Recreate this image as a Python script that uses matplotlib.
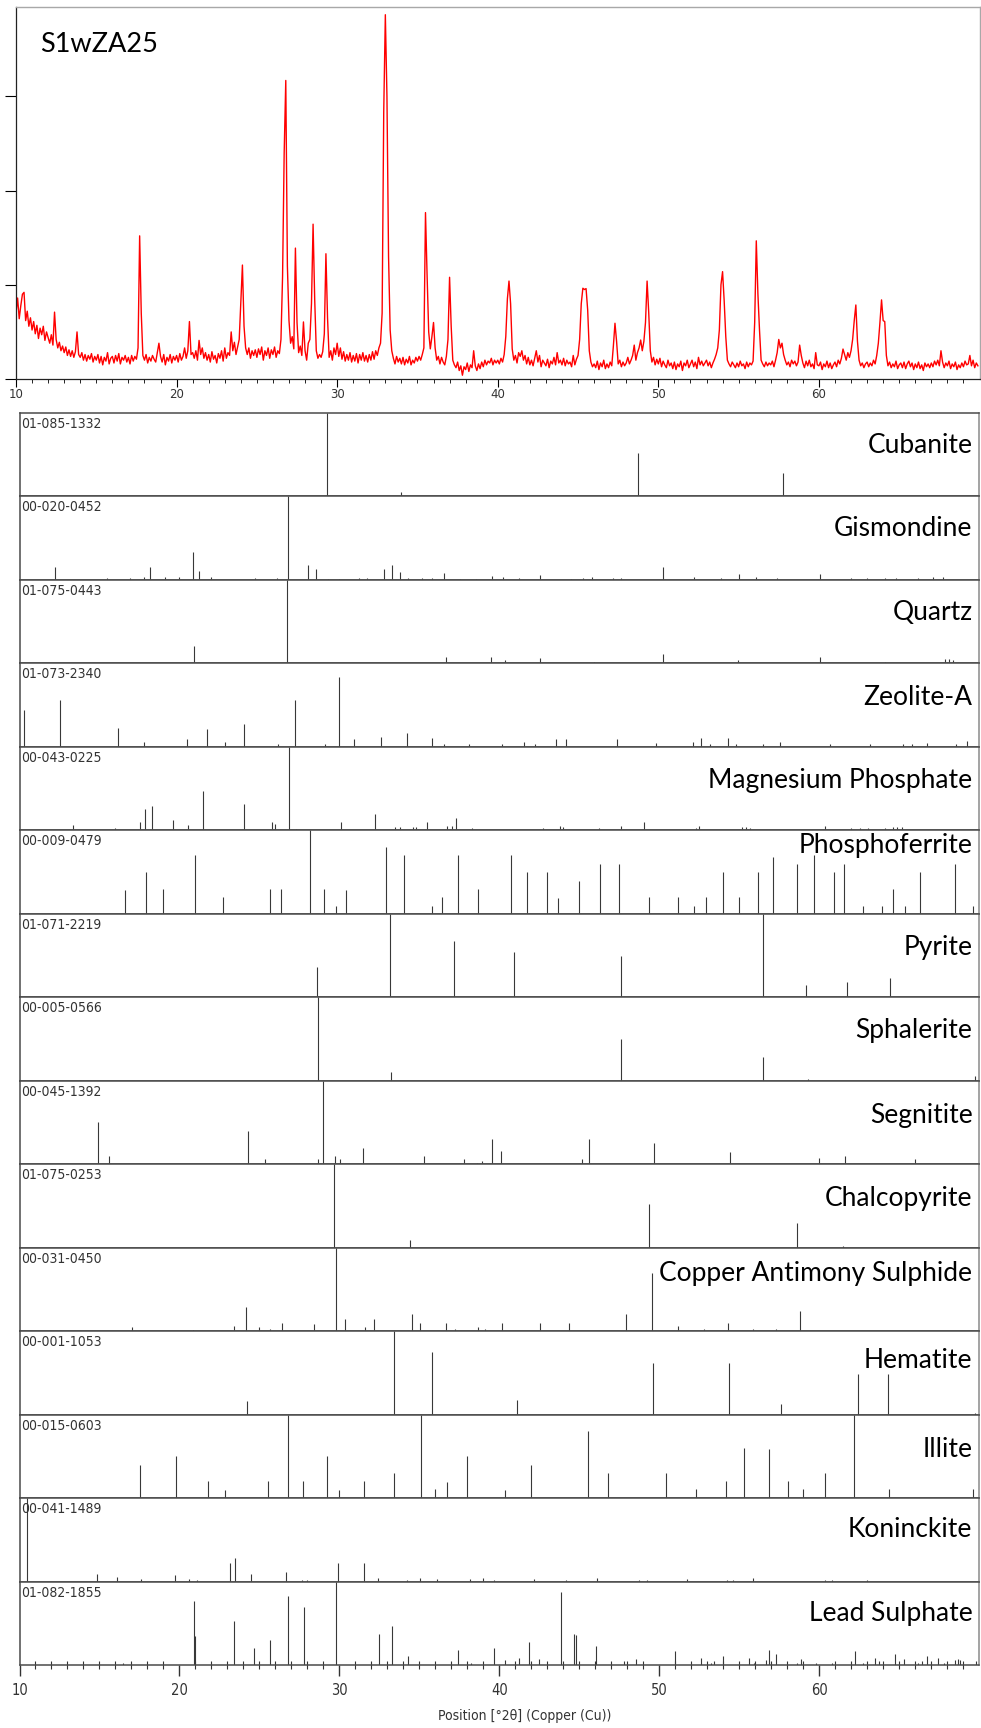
import matplotlib
matplotlib.use("Agg")
import matplotlib.pyplot as plt
import numpy as np
from matplotlib import font_manager

# ---------------- data ----------------
SAMPLE_NAME = "S1wZA25"
X_LABEL = "Position [°2θ] (Copper (Cu))"
X_MAJOR_TICKS = [10, 20, 30, 40, 50, 60]

# measured pattern: counts every 0.1 deg starting at 10.0 deg 2theta
PATTERN_START = 10.0
PATTERN_STEP = 0.1
PATTERN_COUNTS = [
    700, 860, 640, 780, 900, 920, 620, 720, 560, 650,     # 10
    520, 610, 480, 570, 430, 540, 470, 560, 410, 500,     # 11
    440, 380, 470, 360, 710, 420, 330, 390, 300, 350,     # 12
    280, 340, 250, 310, 240, 300, 230, 290, 500, 260,     # 13
    230, 280, 200, 260, 190, 250, 210, 270, 180, 240,     # 14
    200, 260, 170, 240, 150, 230, 190, 280, 160, 220,     # 15
    240, 170, 250, 190, 270, 160, 230, 200, 250, 180,     # 16
    230, 160, 250, 190, 240, 210, 330, 1520, 700, 250,    # 17
    200, 260, 170, 230, 190, 250, 210, 180, 280, 380,     # 18
    240, 180, 260, 150, 230, 190, 260, 170, 240, 200,     # 19
    250, 180, 270, 200, 240, 330, 220, 300, 610, 260,     # 20
    280, 220, 300, 200, 410, 260, 330, 220, 280, 200,     # 21
    260, 180, 290, 210, 250, 170, 270, 220, 300, 190,     # 22
    330, 220, 280, 250, 500, 300, 390, 260, 340, 420,     # 23
    820, 1210, 560, 330, 260, 330, 220, 300, 250, 310,    # 24
    230, 320, 260, 340, 200, 300, 250, 330, 220, 310,     # 25
    260, 340, 230, 300, 270, 420, 1090, 2400, 3170, 1200,  # 26
    620, 380, 450, 320, 1390, 600, 280, 350, 250, 606,    # 27
    300, 200, 380, 420, 800, 1644, 850, 300, 220, 260,    # 28
    230, 290, 480, 1330, 650, 230, 300, 200, 330, 260,    # 29
    380, 240, 330, 210, 290, 190, 260, 200, 280, 180,     # 30
    250, 190, 270, 170, 260, 200, 280, 190, 250, 180,     # 31
    260, 200, 290, 210, 300, 250, 330, 380, 700, 2840,    # 32
    3868, 3000, 1300, 520, 300, 220, 160, 240, 180, 220,  # 33
    160, 230, 150, 210, 170, 240, 150, 200, 170, 230,     # 34
    190, 240, 200, 260, 330, 1767, 1100, 500, 320, 450,   # 35
    600, 330, 200, 240, 160, 230, 180, 150, 240, 420,     # 36
    1080, 560, 200, 150, 120, 180, 90, 140, 40, 130,      # 37
    100, 170, 80, 150, 120, 300, 140, 90, 160, 110,       # 38
    180, 130, 200, 150, 190, 170, 220, 150, 200, 170,     # 39
    200, 160, 220, 180, 260, 450, 850, 1040, 800, 320,    # 40
    200, 250, 170, 280, 240, 300, 200, 250, 160, 230,     # 41
    150, 200, 140, 220, 300, 180, 250, 130, 200, 170,     # 42
    140, 210, 120, 190, 160, 230, 150, 280, 170, 200,     # 43
    150, 220, 140, 200, 160, 180, 130, 250, 150, 210,     # 44
    250, 420, 800, 964, 950, 960, 733, 300, 180, 130,     # 45
    160, 120, 190, 100, 170, 130, 200, 110, 160, 120,     # 46
    180, 140, 350, 592, 400, 160, 200, 130, 180, 140,     # 47
    170, 230, 160, 200, 250, 360, 200, 280, 330, 414,     # 48
    300, 400, 600, 1040, 712, 300, 180, 230, 150, 210,    # 49
    160, 220, 130, 190, 150, 120, 200, 140, 170, 110,     # 50
    180, 100, 160, 130, 190, 90, 170, 140, 200, 120,      # 51
    160, 200, 130, 180, 110, 230, 150, 190, 140, 170,     # 52
    200, 140, 180, 120, 170, 210, 260, 330, 520, 1000,    # 53
    1140, 830, 450, 200, 160, 130, 180, 150, 120, 170,    # 54
    130, 190, 140, 160, 110, 180, 130, 170, 150, 190,     # 55
    600, 1467, 906, 520, 200, 160, 130, 180, 140, 170,    # 56
    150, 190, 130, 200, 280, 420, 330, 380, 260, 200,     # 57
    150, 180, 130, 200, 160, 190, 140, 180, 360, 250,     # 58
    170, 120, 190, 140, 200, 130, 160, 110, 280, 150,     # 59
    140, 180, 100, 160, 130, 190, 120, 170, 110, 150,     # 60
    180, 130, 200, 160, 220, 318, 260, 200, 280, 230,     # 61
    300, 420, 620, 786, 400, 200, 140, 170, 120, 160,     # 62
    180, 130, 170, 140, 200, 160, 250, 380, 600, 840,     # 63
    620, 610, 250, 140, 180, 120, 160, 130, 190, 110,     # 64
    150, 170, 120, 180, 110, 160, 190, 130, 170, 100,     # 65
    160, 120, 180, 110, 150, 90, 170, 130, 160, 120,      # 66
    170, 130, 190, 150, 200, 140, 300, 180, 120, 170,     # 67
    140, 190, 110, 160, 130, 180, 100, 150, 120, 170,     # 68
    130, 190, 150, 160, 250, 140, 200, 120, 170, 140,     # 69
]

MINERAL_NAMES = [
    "Cubanite", "Gismondine", "Quartz", "Zeolite-A", "Magnesium Phosphate",
    "Phosphoferrite", "Pyrite", "Sphalerite", "Segnitite", "Chalcopyrite",
    "Copper Antimony Sulphide", "Hematite", "Illite", "Koninckite", "Lead Sulphate",
]
REF_CODES = [
    "01-085-1332", "00-020-0452", "01-075-0443", "01-073-2340", "00-043-0225",
    "00-009-0479", "01-071-2219", "00-005-0566", "00-045-1392", "01-075-0253",
    "00-031-0450", "00-001-1053", "00-015-0603", "00-041-1489", "01-082-1855",
]

CUBANITE_POS = [29.26, 33.86, 48.69, 57.76]
CUBANITE_INT = [100, 5.6, 52, 28]

GISMONDINE_POS = [12.24, 15.45, 16.9, 17.8, 18.15, 19.1, 20.0, 20.84, 21.24, 22.0, 24.7, 26.1,
                  26.79, 28.04, 28.55, 29.3, 30.0, 31.2, 31.75, 32.77, 33.28, 33.79, 34.3, 35.2,
                  35.78, 36.56, 37.54, 38.52, 39.53, 40.24, 41.25, 42.54, 44.46, 45.24, 45.83,
                  47.12, 47.59, 50.21, 52.17, 53.85, 55.02, 56.08, 57.37, 60.03, 61.99, 63.0,
                  64.1, 64.8, 66.2, 67.15, 67.73]
GISMONDINE_INT = [15, 2, 2, 4, 15, 3, 4, 34, 11, 3, 2, 2,
                  100, 18, 13, 1, 1, 2, 2, 13, 18, 10, 2, 2,
                  2, 8, 1, 1, 5, 3, 2, 6, 1, 2, 3,
                  2, 2, 15, 4, 2, 7, 3, 2, 7, 2, 2,
                  2, 2, 2, 3, 3]

QUARTZ_POS = [20.93, 26.75, 36.68, 39.5, 40.36, 42.55, 45.9, 50.21, 54.94, 60.03, 64.1, 67.85, 68.12, 68.36]
QUARTZ_INT = [21, 100, 8, 7.5, 4, 6, 2, 11, 4, 7.5, 1.5, 5.5, 5, 3.5]

ZEOLITE_POS = [10.28, 12.51, 16.19, 17.79, 20.45, 21.74, 22.84, 24.05, 26.16, 27.21, 29.09, 29.99,
               30.89, 32.61, 34.22, 35.78, 36.56, 38.1, 40.16, 41.57, 42.23, 43.52, 44.19, 47.36,
               49.78, 52.09, 52.64, 53.19, 54.32, 54.83, 56.51, 57.56, 60.69, 63.16, 65.27, 65.78,
               66.75, 68.59, 69.22]
ZEOLITE_INT = [44, 56, 23, 6, 10, 22, 6, 28, 3, 56, 4, 84,
               9, 12, 17, 11, 3, 4, 3, 6, 3, 9, 10, 9,
               5, 6, 11, 4, 11, 3, 4, 6, 4, 4, 4, 3,
               5, 3, 7]

MGPHOS_POS = [13.37, 16.0, 17.55, 17.83, 18.3, 19.6, 20.53, 21.5, 24.05, 25.77, 25.96, 26.83,
              27.3, 30.1, 32.26, 33.5, 33.8, 34.6, 34.8, 35.47, 36.76, 37.03, 37.3, 38.28,
              42.74, 43.8, 43.99, 46.22, 47.59, 49.08, 52.3, 52.5, 55.2, 55.4, 55.7, 60.34,
              62.0, 62.57, 63.04, 64.13, 64.6, 64.88, 65.2]
MGPHOS_INT = [7, 2.5, 10, 26, 29, 12, 7, 47, 31, 10, 8, 100,
              1.6, 10, 20, 3.6, 3.6, 3.6, 3.6, 10, 5.6, 5.6, 15, 2.8,
              2.8, 5.6, 3.6, 2.8, 4.8, 10, 2.8, 4.8, 3.6, 3.6, 2.8, 4.8,
              2.8, 2.8, 2.8, 2.8, 3.6, 3.6, 3.6]

PHOSPHO_POS = [16.58, 17.91, 19.0, 20.96, 22.72, 25.69, 26.35, 28.19, 29.05, 29.8, 30.42, 32.93,
               34.02, 35.78, 36.45, 37.42, 38.64, 40.71, 41.76, 42.97, 43.68, 44.97, 46.3, 47.47,
               49.35, 51.19, 52.16, 52.95, 54.0, 54.98, 56.19, 57.09, 58.62, 59.71, 60.93, 61.55,
               62.77, 63.94, 64.64, 65.35, 66.28, 68.47, 69.61]
PHOSPHO_INT = [28, 50, 30, 70, 20, 30, 30, 100, 30, 9, 28, 80,
               70, 9, 20, 70, 30, 70, 50, 50, 19, 39, 60, 60,
               20, 20, 9, 20, 50, 20, 50, 68, 60, 70, 50, 60,
               9, 9, 30, 9, 50, 60, 9]

PYRITE_POS = [28.62, 33.16, 37.19, 40.9, 47.59, 56.47, 59.17, 61.75, 64.45]
PYRITE_INT = [36, 100, 67, 54, 49, 100, 15, 18, 23]

SPHALERITE_POS = [28.66, 33.2, 47.63, 56.47, 59.29, 69.73]
SPHALERITE_INT = [100, 10, 50, 29, 2, 6]

SEGNITITE_POS = [14.9, 15.6, 24.28, 25.34, 28.66, 28.97, 29.76, 30.03, 31.48, 35.27, 37.81, 38.6,
                 38.9, 39.53, 40.08, 45.17, 45.63, 49.66, 54.43, 59.99, 61.59, 66.01]
SEGNITITE_INT = [50, 10, 40, 6, 6, 100, 10, 6, 20, 10, 6, 2,
                 4, 30, 16, 6, 30, 26, 15, 8, 10, 6]

CHALCO_POS = [29.68, 34.41, 49.39, 58.62, 61.51]
CHALCO_INT = [100, 9, 52, 29, 2]

CAS_POS = [17.04, 20.88, 23.43, 24.17, 24.99, 25.69, 26.43, 28.43, 29.8, 30.38, 31.6, 32.18,
           34.53, 35.04, 36.64, 37.23, 38.67, 39.1, 40.16, 42.54, 44.38, 47.9, 49.55, 51.19,
           52.79, 54.32, 55.88, 57.29, 58.81]
CAS_INT = [5, 2, 6, 29, 5, 3, 10, 8, 100, 15, 5, 15,
           20, 10, 10, 3, 5, 3, 10, 10, 10, 20, 70, 6,
           3, 10, 3, 3, 24]

HEMATITE_POS = [24.24, 33.39, 35.82, 41.14, 49.62, 54.36, 57.64, 62.41, 64.33, 69.73]
HEMATITE_INT = [16, 100, 75, 17, 62, 62, 13, 49, 49, 2]

ILLITE_POS = [17.56, 19.78, 21.78, 22.87, 25.53, 26.82, 27.72, 29.25, 29.95, 31.56, 33.39, 35.11,
              35.97, 36.76, 38.01, 40.36, 41.96, 45.56, 46.81, 50.41, 52.32, 54.16, 55.3, 56.86,
              58.07, 59.01, 60.34, 62.17, 64.37, 69.61]
ILLITE_INT = [40, 50, 20, 10, 20, 100, 20, 50, 10, 20, 30, 100,
              11, 19, 50, 10, 40, 80, 30, 30, 11, 20, 60, 59,
              20, 11, 30, 100, 11, 11]

KONINCK_POS = [10.44, 14.86, 16.07, 17.6, 19.71, 20.57, 21.11, 23.19, 23.5, 24.48, 26.67, 27.65,
               28.0, 29.91, 31.52, 32.42, 34.22, 35.04, 36.09, 38.2, 38.99, 39.65, 42.15, 44.15,
               46.1, 48.76, 49.23, 51.73, 54.24, 54.63, 55.84, 60.34, 60.81, 63.0]
KONINCK_INT = [100, 9, 6, 3, 8, 3, 2, 22, 28, 9, 11, 2,
               2, 22, 22, 4, 2, 4, 3, 3, 4, 2, 3, 2,
               4, 2, 2, 3, 2, 2, 4, 2, 2, 2]

LEADSUL_POS = [16.5, 20.92, 21.0, 23.42, 24.67, 25.65, 26.82, 27.8, 29.8, 32.49, 33.31, 34.29,
               37.42, 38.24, 39.65, 40.39, 41.21, 41.84, 42.46, 43.87, 44.66, 44.77, 46.03, 47.82,
               48.53, 50.99, 52.64, 53.26, 53.46, 53.97, 55.61, 55.92, 56.66, 56.86, 57.29, 58.62,
               58.85, 59.79, 60.81, 62.26, 62.77, 63.51, 63.74, 64.72, 65.31, 66.17, 66.44, 66.75,
               67.42, 67.81, 68.51, 68.67, 68.82, 69.8]
LEADSUL_INT = [3, 77, 35, 53, 21, 30, 83, 69, 100, 37, 47, 11,
               18, 3, 21, 6, 9, 28, 7, 87, 37, 36, 23, 5,
               7, 17, 9, 3, 5, 11, 9, 3, 6, 18, 13, 3,
               7, 2, 2, 17, 2, 9, 5, 13, 7, 2, 5, 11,
               9, 3, 6, 7, 6, 5]

STICK_POSITIONS = [CUBANITE_POS, GISMONDINE_POS, QUARTZ_POS, ZEOLITE_POS, MGPHOS_POS,
                   PHOSPHO_POS, PYRITE_POS, SPHALERITE_POS, SEGNITITE_POS, CHALCO_POS,
                   CAS_POS, HEMATITE_POS, ILLITE_POS, KONINCK_POS, LEADSUL_POS]
STICK_INTENSITIES = [CUBANITE_INT, GISMONDINE_INT, QUARTZ_INT, ZEOLITE_INT, MGPHOS_INT,
                     PHOSPHO_INT, PYRITE_INT, SPHALERITE_INT, SEGNITITE_INT, CHALCO_INT,
                     CAS_INT, HEMATITE_INT, ILLITE_INT, KONINCK_INT, LEADSUL_INT]

# ---------------- layout (pixels) ----------------
W, H = 981, 1728
NAME_BASELINE = [40, 40, 40, 42, 41, 23, 41, 41, 42, 42, 33, 37, 42, 39, 39]

# narrow font for the small software labels
_fonts = font_manager.fontManager.ttflist
_names = {f.name for f in _fonts}
NARROW_PROPS = dict(family="Liberation Sans")
if "Liberation Sans Narrow" in _names:
    NARROW_PROPS = dict(family="Liberation Sans Narrow")
elif any(f.name == "DejaVu Sans" and "Condensed" in f.fname for f in _fonts):
    NARROW_PROPS = dict(family="DejaVu Sans", fontstretch="condensed")
elif "Roboto Condensed" in _names:
    NARROW_PROPS = dict(family="Roboto Condensed")
TITLE_FONT = "Lato" if "Lato" in _names else "DejaVu Sans"

fig = plt.figure(figsize=(W / 100, H / 100), dpi=100)


def add_axes_px(left, top, right, bottom):
    return fig.add_axes([left / W, 1 - bottom / H, (right - left) / W, (bottom - top) / H])


# ---- top: measured pattern ----
T_LEFT, T_TOP, T_RIGHT, T_BOTTOM = 16, 7, 979.5, 379
ax = add_axes_px(T_LEFT, T_TOP, T_RIGHT, T_BOTTOM)
x = PATTERN_START + PATTERN_STEP * np.arange(len(PATTERN_COUNTS))
ax.plot(x, PATTERN_COUNTS, color="#ff0000", lw=1.0)
ax.set_xlim(10, 70)
ax.set_ylim(0, 3950)
ax.set_xticks(X_MAJOR_TICKS)
ax.set_xticks([v for v in range(11, 70) if v % 10], minor=True)
ax.set_yticks([0, 1000, 2000, 3000])
ax.tick_params(axis="x", which="major", direction="out", length=6, width=0.8,
               pad=0.5, labelsize=8.5, labelcolor="#333333")
ax.tick_params(axis="x", which="minor", direction="out", length=3, width=0.6)
ax.tick_params(axis="y", direction="out", length=8, width=0.8, labelleft=False)
for s in ("top", "right"):
    ax.spines[s].set_color("#a8a8a8")
    ax.spines[s].set_linewidth(1.0)
for s in ("left", "bottom"):
    ax.spines[s].set_color("#222222")
    ax.spines[s].set_linewidth(0.9)
ax.text((40.5 - T_LEFT) / (T_RIGHT - T_LEFT), 1 - (51.7 - T_TOP) / (T_BOTTOM - T_TOP),
        SAMPLE_NAME, transform=ax.transAxes, ha="left", va="baseline",
        fontsize=19.5, family=TITLE_FONT, color="#000000")

# ---- reference stick panels ----
P_LEFT, P_RIGHT, P_TOP, P_H = 19.5, 979.0, 413.0, 83.47
n = len(MINERAL_NAMES)
for i in range(n):
    top = P_TOP + i * P_H
    a = add_axes_px(P_LEFT, top, P_RIGHT, top + P_H)
    a.vlines(STICK_POSITIONS[i], 0, STICK_INTENSITIES[i], color="#383838", lw=0.8)
    a.set_xlim(10, 70)
    a.set_ylim(0, 100)
    a.set_yticks([])
    for s in a.spines.values():
        s.set_color("#4a4a4a")
        s.set_linewidth(1.1)
    a.spines["right"].set_color("#8a8a8a")
    a.text(1.5 / (P_RIGHT - P_LEFT), 1 - 4 / P_H, REF_CODES[i], transform=a.transAxes,
           ha="left", va="top", fontsize=10, color="#333333", **NARROW_PROPS)
    a.text((972.5 - P_LEFT) / (P_RIGHT - P_LEFT), 1 - NAME_BASELINE[i] / P_H, MINERAL_NAMES[i],
           transform=a.transAxes, ha="right", va="baseline", fontsize=19,
           family=TITLE_FONT, color="#000000")
    if i < n - 1:
        a.set_xticks([])
    else:
        a.set_xticks(X_MAJOR_TICKS)
        a.set_xticks([v for v in range(11, 70) if v % 10], minor=True)
        a.tick_params(axis="x", which="major", direction="out", length=8, width=1.0,
                      pad=5, labelsize=10.5, labelcolor="#333333", color="#333333")
        a.tick_params(axis="x", which="minor", direction="inout", length=6, width=0.8,
                      color="#333333")
        for lab in a.get_xticklabels():
            for k, v in NARROW_PROPS.items():
                getattr(lab, "set_" + k)(v)
        a.set_xlabel(X_LABEL, fontsize=10, color="#333333", **NARROW_PROPS)
        a.xaxis.set_label_coords((525 - P_LEFT) / (P_RIGHT - P_LEFT), -(1716 - (top + P_H)) / P_H)
        a.xaxis.label.set_verticalalignment("center")

fig.savefig("out.png", dpi=100, facecolor="white")
